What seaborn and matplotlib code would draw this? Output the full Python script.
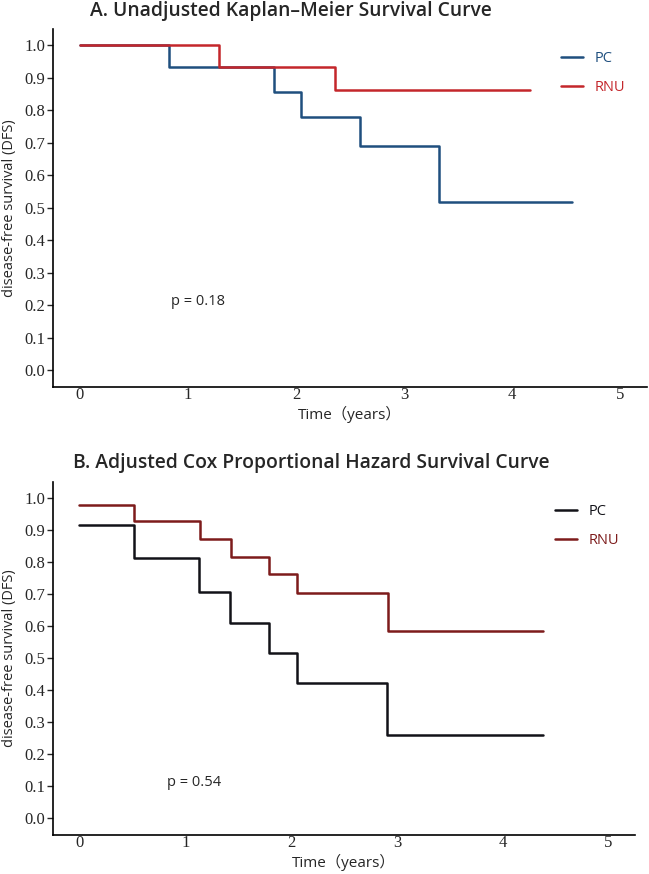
import pandas as pd
import matplotlib
matplotlib.use('Agg')
import matplotlib.pyplot as plt
import seaborn as sns

# panel A: Kaplan-Meier step values (time in years, DFS)
pc_a_time = [0, 0.82, 1.80, 2.05, 2.59, 3.32, 4.56]
pc_a_surv = [1.0, 0.933, 0.855, 0.778, 0.691, 0.519, 0.519]
rnu_a_time = [0, 1.29, 2.36, 4.17]
rnu_a_surv = [1.0, 0.933, 0.861, 0.861]

# panel B: adjusted Cox curves
pc_b_time = [0, 0.52, 1.13, 1.42, 1.79, 2.06, 2.91, 4.38]
pc_b_surv = [0.917, 0.814, 0.708, 0.610, 0.516, 0.421, 0.259, 0.259]
rnu_b_time = [0, 0.52, 1.14, 1.43, 1.79, 2.06, 2.92, 4.38]
rnu_b_surv = [0.977, 0.927, 0.871, 0.816, 0.762, 0.702, 0.585, 0.585]

groups = ['PC', 'RNU']
titles = ['A. Unadjusted Kaplan\u2013Meier Survival Curve',
          'B. Adjusted Cox Proportional Hazard Survival Curve']
p_values = ['p = 0.18', 'p = 0.54']
x_ticks = [0, 1, 2, 3, 4, 5]
y_ticks = [0.0, 0.1, 0.2, 0.3, 0.4, 0.5, 0.6, 0.7, 0.8, 0.9, 1.0]


def make_df(pc_t, pc_s, rnu_t, rnu_s):
    return pd.concat([
        pd.DataFrame({'time': pc_t, 'surv': pc_s, 'group': 'PC'}),
        pd.DataFrame({'time': rnu_t, 'surv': rnu_s, 'group': 'RNU'}),
    ], ignore_index=True)


df_a = make_df(pc_a_time, pc_a_surv, rnu_a_time, rnu_a_surv)
df_b = make_df(pc_b_time, pc_b_surv, rnu_b_time, rnu_b_surv)

sns.set_theme(style='ticks')
plt.rcParams['font.family'] = ['Open Sans', 'Noto Sans CJK SC', 'DejaVu Sans']

W, H = 649, 874
fig = plt.figure(figsize=(W / 100, H / 100), dpi=100)


def px_axes(left, top, right, bottom):
    return fig.add_axes([left / W, 1 - bottom / H, (right - left) / W, (bottom - top) / H])


ax_a = px_axes(53, 29, 647, 387)
ax_b = px_axes(53, 482, 635, 835)

panels = [
    (ax_a, df_a, {'PC': '#1f4f7e', 'RNU': '#c4262b'}, 291, 11, (0.84, 0.212), 0.833),
    (ax_b, df_b, {'PC': '#121218', 'RNU': '#7d1b1b'}, 311, 463, (0.83, 0.113), 0.84),
]

for i, (ax, df, pal, title_x, title_y, p_pos, leg_x) in enumerate(panels):
    sns.lineplot(data=df, x='time', y='surv', hue='group', hue_order=groups,
                 palette=pal, estimator=None, sort=False, drawstyle='steps-post',
                 linewidth=1.8, ax=ax)
    ax.set_xlim(-0.25, 5.25)
    ax.set_ylim(-0.052, 1.05)
    ax.set_xticks(x_ticks)
    ax.set_yticks(y_ticks)
    ax.set_xticklabels([str(t) for t in x_ticks], family='Liberation Serif', fontsize=12)
    ax.set_yticklabels(['%.1f' % t for t in y_ticks], family='Liberation Serif', fontsize=12)
    ax.tick_params(axis='x', length=0, pad=0)
    ax.tick_params(axis='y', length=4, width=1, pad=1.5)
    sns.despine(ax=ax)
    for s in ['left', 'bottom']:
        ax.spines[s].set_linewidth(1.2)
        ax.spines[s].set_color('black')
    ax.set_xlabel('Time（years）', fontsize=11, labelpad=2)
    ax.set_ylabel('disease-free survival (DFS)', fontsize=10.5)
    ax.yaxis.set_label_coords(-0.061, 0.5)
    fig.text(title_x / W, 1 - title_y / H, titles[i], ha='center', va='center',
             fontsize=13.9, fontweight='semibold')
    ax.text(p_pos[0], p_pos[1], p_values[i], fontsize=10.5, va='center', ha='left')
    ax.legend(title=None, frameon=False, loc='upper left',
              bbox_to_anchor=(leg_x, 0.975),
              handlelength=1.5, handletextpad=0.8, labelspacing=0.95,
              fontsize=10.5, labelcolor='linecolor')

fig.savefig('out.png', dpi=100, facecolor='white')
